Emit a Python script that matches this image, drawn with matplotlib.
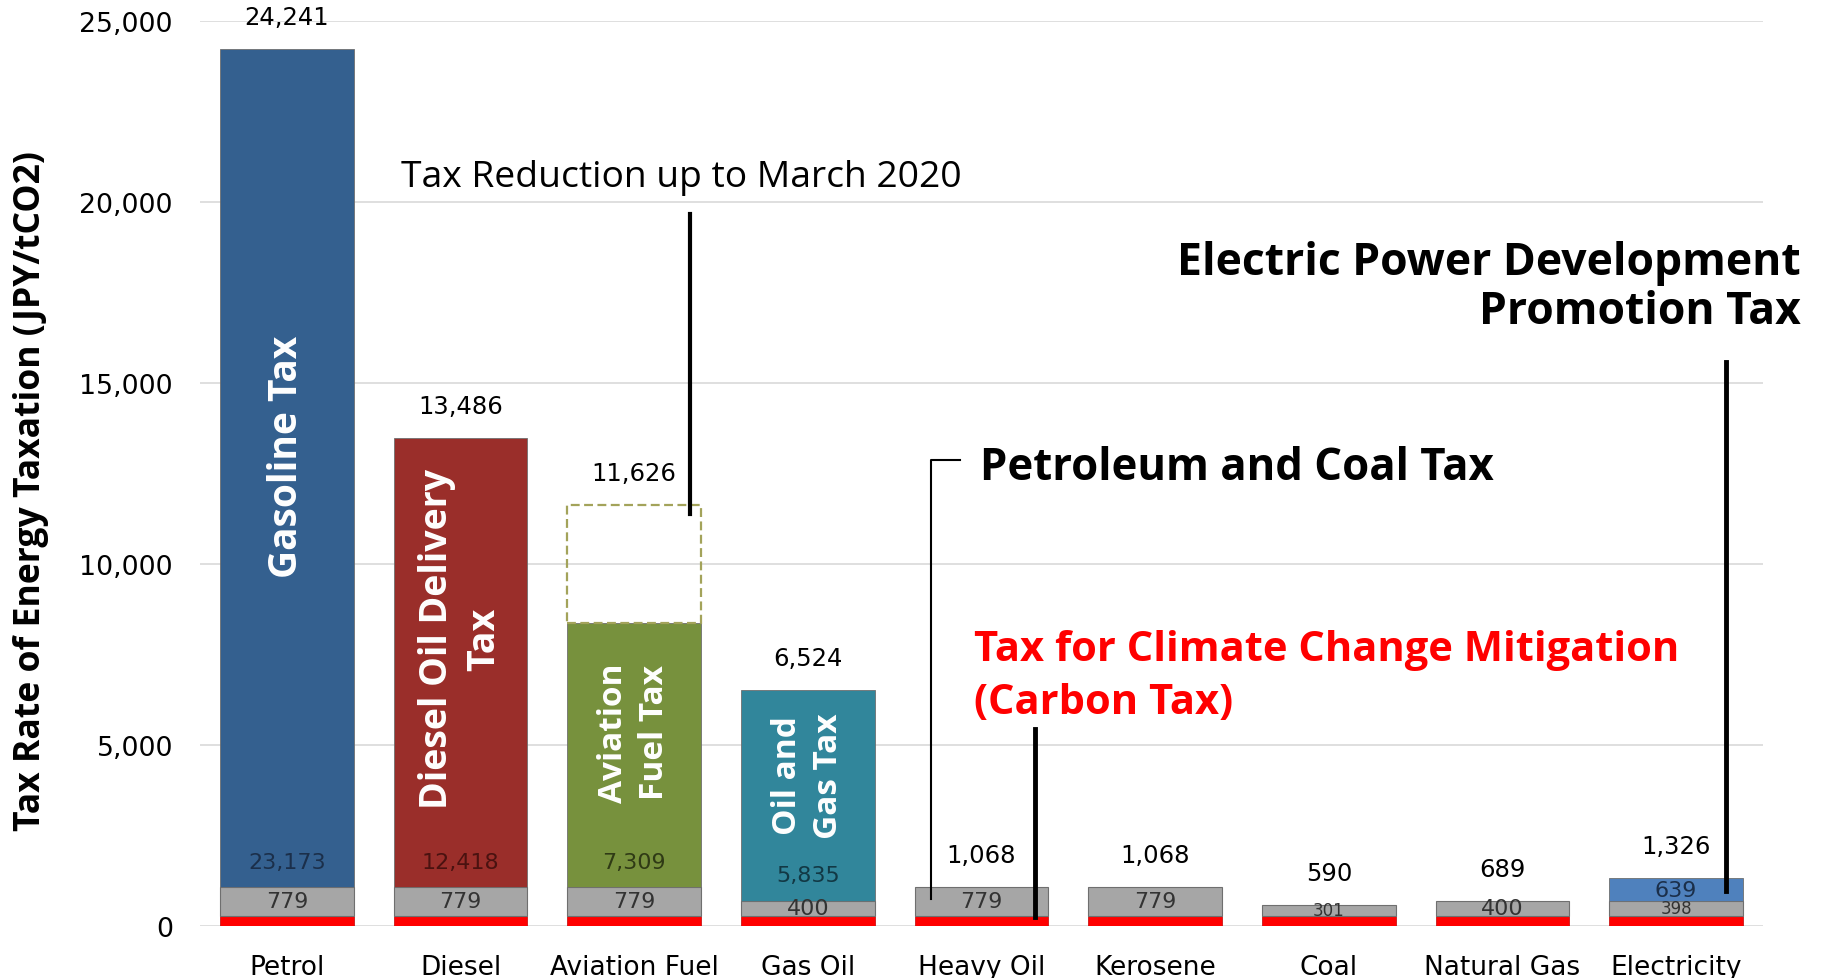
import matplotlib
matplotlib.use("Agg")
import matplotlib.pyplot as plt

# energy tax rates in JPY per tonne of CO2
categories = ['Petrol', 'Diesel', 'Aviation Fuel', 'Gas Oil', 'Heavy Oil',
              'Kerosene', 'Coal', 'Natural Gas', 'Electricity']
carbon_tax = [289, 289, 289, 289, 289, 289, 289, 289, 289]
petroleum_coal_tax = [779, 779, 779, 400, 779, 779, 301, 400, 398]
fuel_tax = [23173, 12418, 7309, 5835, 0, 0, 0, 0, 0]
power_tax = [0, 0, 0, 0, 0, 0, 0, 0, 639]
totals = [24241, 13486, 11626, 6524, 1068, 1068, 590, 689, 1326]

fuel_colors = ['#34608F', '#9A2E2A', '#77913D', '#31869B']
fuel_label_colors = ['#1B2F4A', '#4A1210', '#2F3A15', '#123844']
fuel_names = ['Gasoline Tax', 'Diesel Oil Delivery\nTax', 'Aviation\nFuel Tax', 'Oil and\nGas Tax']
fuel_name_y = [12983, 7956, 5359, 4171]
fuel_name_size = [28, 27, 24, 24]

plt.rcParams['font.family'] = ['DejaVu Sans']
narrow = ['Liberation Sans Narrow', 'DejaVu Sans']
bold_font = ['Open Sans', 'DejaVu Sans']

fig = plt.figure(figsize=(18.22, 9.79), dpi=100)
ax = fig.add_axes([0.1098, 0.0531, 0.9676 - 0.1098, 0.9775 - 0.0531])

x = list(range(len(categories)))
w = 0.77
edge = '#6F6F6F'

ax.bar(x, carbon_tax, w, color='#FF0000', edgecolor='#C00000', linewidth=0.5, zorder=3)
ax.bar(x, petroleum_coal_tax, w, bottom=carbon_tax, color='#A6A6A6',
       edgecolor=edge, linewidth=0.8, zorder=3)
base2 = [a + b for a, b in zip(carbon_tax, petroleum_coal_tax)]
for i in range(4):
    ax.bar(x[i], fuel_tax[i], w, bottom=base2[i], color=fuel_colors[i],
           edgecolor=edge, linewidth=0.6, zorder=3)
ax.bar(x[8], power_tax[8], w, bottom=base2[8], color='#4F81BD',
       edgecolor=edge, linewidth=0.6, zorder=3)

# tax reduction on aviation fuel (dashed outline)
top_solid = base2[2] + fuel_tax[2]
ax.bar(x[2], totals[2] - top_solid, w, bottom=top_solid, facecolor='none',
       edgecolor='#A3A35A', linewidth=1.6, linestyle=(0, (4, 2)), zorder=3)

# segment labels
for i in x:
    small = petroleum_coal_tax[i] < 350
    ax.text(i, carbon_tax[i] + petroleum_coal_tax[i] / 2, f'{petroleum_coal_tax[i]:,}',
            ha='center', va='center', fontsize=12 if small or i == 8 else 16,
            color='#333333', family=narrow, zorder=5)
    if fuel_tax[i] > 0:
        ax.annotate(f'{fuel_tax[i]:,}', (i, base2[i]), xytext=(0, 18.5),
                    textcoords='offset points', ha='center', va='center',
                    fontsize=16, color=fuel_label_colors[i], family=narrow, zorder=5)
    ax.annotate(f'{totals[i]:,}', (i, totals[i]), xytext=(0, 23),
                textcoords='offset points', ha='center', va='center', fontsize=17.5)
ax.text(8, base2[8] + power_tax[8] / 2, f'{power_tax[8]:,}', ha='center', va='center',
        fontsize=16, color='#1B2F4A', family=narrow, zorder=5)

for i in range(4):
    ax.text(i, fuel_name_y[i], fuel_names[i], rotation=90, ha='center', va='center',
            multialignment='center', color='white', fontsize=fuel_name_size[i],
            fontweight='bold', family=bold_font, linespacing=1.3, zorder=5)

# annotations
ax.text(0.658, 20691, 'Tax Reduction up to March 2020', fontsize=26.8,
        family=bold_font, va='center', ha='left')
ax.plot([2.32, 2.32], [19669, 11381], color='black', lw=3, zorder=6)

ax.text(3.993, 12680, 'Petroleum and Coal Tax', fontsize=31.5, fontweight='bold',
        family=bold_font, va='center', ha='left')
ax.plot([3.878, 3.71, 3.71], [12873, 12873, 746], color='black', lw=1.5, zorder=6)

ax.text(3.958, 6906, 'Tax for Climate Change Mitigation\n(Carbon Tax)', fontsize=30,
        fontweight='bold', color='#FF0000', family=bold_font, va='center', ha='left',
        linespacing=1.36)
ax.plot([4.31, 4.31], [5442, 249], color='black', lw=3.5, zorder=6)

ax.text(8.717, 17652, 'Electric Power Development\nPromotion Tax', fontsize=32,
        fontweight='bold', family=bold_font, va='center', ha='right',
        multialignment='right', linespacing=1.13)
ax.plot([8.29, 8.29], [15580, 967], color='black', lw=3.5, zorder=6)

ax.set_xlim(-0.5, 8.5)
ax.set_ylim(0, 25000)
ax.set_yticks(range(0, 25001, 5000))
ax.set_yticklabels([f'{v:,}' for v in range(0, 25001, 5000)], fontsize=19.3)
ax.set_xticks(x)
ax.set_xticklabels(categories, fontsize=19)
ax.tick_params(axis='y', length=0, pad=19.5)
ax.tick_params(axis='x', length=0, pad=20)
ax.grid(axis='y', color='#D9D9D9', lw=1.2, zorder=0)
ax.set_axisbelow(True)
for s in ax.spines.values():
    s.set_visible(False)

fig.text(31 / 1822, 1 - 491 / 979, 'Tax Rate of Energy Taxation (JPY/tCO2)', rotation=90,
         ha='center', va='center', fontsize=25.6, fontweight='bold', family=bold_font)

fig.savefig('out.png', dpi=100)
